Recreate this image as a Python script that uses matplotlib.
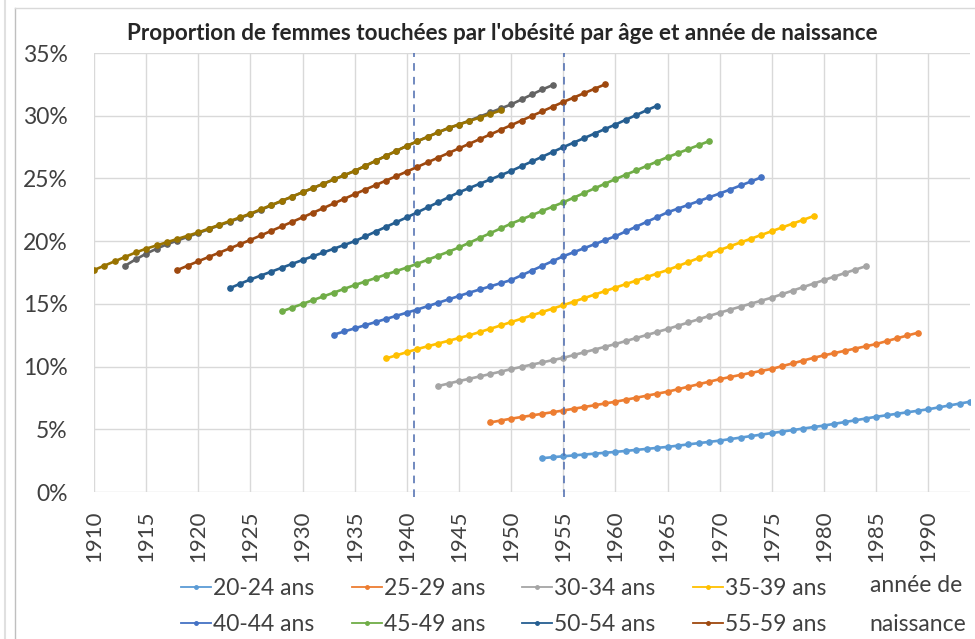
import matplotlib
matplotlib.use("Agg")
import matplotlib.pyplot as plt
from matplotlib.lines import Line2D
from matplotlib.ticker import FuncFormatter

plt.rcParams['font.family'] = ['Lato', 'DejaVu Sans']

title = "Proportion de femmes touchées par l'obésité par âge et année de naissance"

# proportion (%) par année de naissance, une série par tranche d'âge
labels = ["20-24 ans", "25-29 ans", "30-34 ans", "35-39 ans",
          "40-44 ans", "45-49 ans", "50-54 ans", "55-59 ans",
          "60-64 ans", "65-69 ans"]
first_year = [1953, 1948, 1943, 1938, 1933, 1928, 1923, 1918, 1913, 1910]
colors = ["#5B9BD5", "#ED7D31", "#A5A5A5", "#FFC000", "#4472C4",
          "#70AD47", "#255E91", "#9E480E", "#636363", "#997300"]

v20_24 = [2.7, 2.78, 2.85, 2.92, 2.99, 3.06, 3.13, 3.2, 3.28, 3.36, 3.44, 3.52, 3.6, 3.7,
          3.8, 3.9, 4.0, 4.1, 4.22, 4.34, 4.46, 4.58, 4.7, 4.82, 4.94, 5.06, 5.18, 5.3,
          5.44, 5.58, 5.72, 5.86, 6.0, 6.12, 6.24, 6.36, 6.48, 6.6, 6.75, 6.9, 7.05, 7.2]
v25_29 = [5.55, 5.7, 5.85, 5.98, 6.11, 6.24, 6.37, 6.5, 6.64, 6.78, 6.92, 7.06, 7.2, 7.36,
          7.52, 7.68, 7.84, 8.0, 8.2, 8.4, 8.6, 8.8, 9.0, 9.17, 9.34, 9.5, 9.66, 9.82,
          10.04, 10.26, 10.48, 10.7, 10.9, 11.08, 11.26, 11.44, 11.62, 11.8, 12.03, 12.26,
          12.48, 12.7]
v30_34 = [8.45, 8.65, 8.85, 9.03, 9.22, 9.41, 9.6, 9.8, 9.98, 10.16, 10.34, 10.52, 10.7,
          10.92, 11.14, 11.36, 11.58, 11.8, 12.04, 12.28, 12.52, 12.76, 13.0, 13.26, 13.52,
          13.78, 14.04, 14.3, 14.54, 14.78, 15.02, 15.26, 15.5, 15.78, 16.06, 16.34, 16.62,
          16.9, 17.18, 17.46, 17.73, 18.0]
v35_39 = [10.65, 10.9, 11.15, 11.4, 11.62, 11.84, 12.06, 12.28, 12.5, 12.76, 13.02, 13.28,
          13.55, 13.82, 14.09, 14.36, 14.63, 14.9, 15.18, 15.46, 15.74, 16.02, 16.3, 16.58,
          16.86, 17.14, 17.42, 17.7, 18.02, 18.34, 18.66, 18.98, 19.3, 19.6, 19.9, 20.2,
          20.5, 20.8, 21.1, 21.4, 21.7, 22.0]
v40_44 = [12.55, 12.8, 13.05, 13.3, 13.55, 13.8, 14.05, 14.3, 14.55, 14.82, 15.09, 15.36,
          15.63, 15.9, 16.15, 16.4, 16.65, 16.9, 17.28, 17.66, 18.04, 18.42, 18.8, 19.12,
          19.44, 19.76, 20.08, 20.4, 20.78, 21.16, 21.54, 21.92, 22.3, 22.6, 22.9, 23.2,
          23.5, 23.8, 24.12, 24.44, 24.76, 25.1]
v45_49 = [14.4, 14.7, 15.0, 15.3, 15.6, 15.9, 16.2, 16.5, 16.78, 17.06, 17.34, 17.62, 17.9,
          18.2, 18.52, 18.84, 19.16, 19.5, 19.88, 20.26, 20.64, 21.02, 21.4, 21.74, 22.08,
          22.42, 22.76, 23.1, 23.47, 23.84, 24.21, 24.58, 24.95, 25.3, 25.65, 26.0, 26.35,
          26.7, 27.02, 27.34, 27.66, 27.98]
v50_54 = [16.25, 16.6, 16.95, 17.26, 17.57, 17.88, 18.19, 18.5, 18.8, 19.1, 19.4, 19.7, 20.0,
          20.38, 20.76, 21.14, 21.52, 21.9, 22.3, 22.7, 23.1, 23.5, 23.9, 24.24, 24.58,
          24.92, 25.26, 25.6, 25.98, 26.36, 26.74, 27.12, 27.5, 27.86, 28.22, 28.58, 28.94,
          29.3, 29.68, 30.06, 30.44, 30.8]
v55_59 = [17.7, 18.05, 18.4, 18.74, 19.08, 19.42, 19.76, 20.1, 20.46, 20.82, 21.18, 21.54,
          21.9, 22.27, 22.64, 23.01, 23.38, 23.75, 24.11, 24.47, 24.83, 25.19, 25.55, 25.92,
          26.29, 26.66, 27.03, 27.4, 27.77, 28.14, 28.51, 28.88, 29.25, 29.62, 29.99, 30.36,
          30.73, 31.1, 31.45, 31.8, 32.15, 32.5]
v60_64 = [18.05, 18.55, 19.0, 19.4, 19.75, 20.05, 20.35, 20.65, 20.95, 21.25, 21.55, 21.85,
          22.15, 22.5, 22.85, 23.2, 23.55, 23.9, 24.24, 24.58, 24.92, 25.26, 25.6, 26.0,
          26.4, 26.8, 27.2, 27.6, 27.96, 28.32, 28.68, 29.0, 29.3, 29.62, 29.94, 30.26,
          30.58, 30.9, 31.3, 31.7, 32.1, 32.45]
v65_69 = [17.7, 18.05, 18.4, 18.75, 19.1, 19.4, 19.66, 19.92, 20.18, 20.44, 20.7, 21.0,
          21.3, 21.6, 21.9, 22.2, 22.54, 22.88, 23.22, 23.56, 23.9, 24.24, 24.58, 24.92,
          25.26, 25.6, 26.0, 26.4, 26.8, 27.2, 27.6, 27.96, 28.32, 28.68, 29.04, 29.3,
          29.58, 29.86, 30.14, 30.42]

series = [v20_24, v25_29, v30_34, v35_39, v40_44, v45_49, v50_54, v55_59, v60_64, v65_69]
year_ticks = list(range(1910, 1995, 5))
marked_years = [1940.7, 1955.1]

fig = plt.figure(figsize=(9.75, 6.39), dpi=100)
ax = fig.add_axes([0.0964, 0.23, 0.8985, 0.687])

for vals, y0, col, lab in zip(series, first_year, colors, labels):
    years = list(range(y0, y0 + len(vals)))
    ax.plot(years, vals, color=col, lw=1.9, marker='o', ms=3.8, label=lab)

for yr in marked_years:
    ax.axvline(yr, ymin=-0.012, ymax=1, color="#4A6AAE", lw=1.1,
               ls=(0, (5, 4)), clip_on=False, zorder=5)

ax.set_xlim(1910, 1994)
ax.set_ylim(0, 35)
ax.set_xticks(year_ticks)
ax.set_yticks(range(0, 36, 5))
ax.yaxis.set_major_formatter(FuncFormatter(lambda v, p: "%d%%" % v))
ax.grid(True, color="#D9D9D9", lw=1)
ax.set_axisbelow(True)
for s in ax.spines.values():
    s.set_visible(False)
ax.tick_params(length=0, labelcolor="#404040")
ax.tick_params(axis='y', pad=19, labelsize=16.5)
ax.tick_params(axis='x', pad=13, labelsize=16)
plt.setp(ax.get_xticklabels(), rotation=90)

fig.text(0.515, 0.948, title, ha='center', va='center', fontsize=16.2,
         fontweight='bold', color="#262626")

# légende en lignes : 20-24, 25-29, 30-34, 35-39 puis 40-44 ... 55-59
order = [0, 4, 1, 5, 2, 6, 3, 7]
handles = [Line2D([], [], color=colors[i], lw=1.3, marker='o', ms=2.5) for i in order]
fig.legend(handles, [labels[i] for i in order], ncol=4, loc='upper left',
           bbox_to_anchor=(0.186, 0.096), frameon=False, fontsize=16.5,
           handlelength=1.3, handletextpad=0.1, columnspacing=1.62,
           labelspacing=0.68, borderpad=0, borderaxespad=0,
           labelcolor="#404040")
fig.text(0.892, 0.0835, "année de", ha='left', va='center', fontsize=16.5, color="#404040")
fig.text(0.892, 0.023, "naissance", ha='left', va='center', fontsize=16.5, color="#404040")

# cadre du graphique
fig.add_artist(Line2D([0.0154, 0.0154], [0, 0.988], color="#BFBFBF", lw=1))
fig.add_artist(Line2D([0.0154, 1], [0.988, 0.988], color="#D9D9D9", lw=1))
fig.add_artist(Line2D([0.005, 0.005], [0, 1], color="#E0E0E0", lw=1.5))

fig.savefig("out.png", dpi=100)
